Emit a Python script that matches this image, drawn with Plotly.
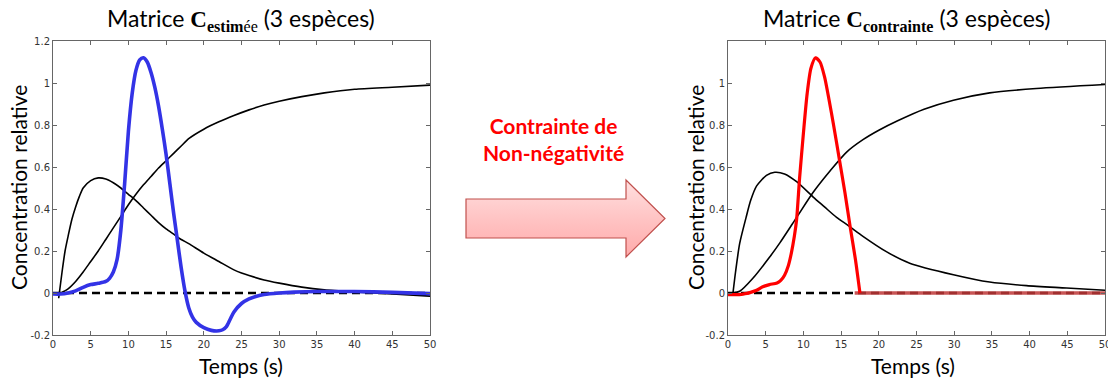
import base64
import plotly.graph_objects as go

# ---------------- data ----------------
# Left panel (estimated C)
tL_b1 = [0.75, 1.2, 1.6, 2.0, 2.5, 3.0, 3.5, 4.0, 5.0, 6.0, 7.0, 8.0, 9.0, 10.0, 11.0, 12.0, 13.0,
         14.0, 15.0, 16.0, 17.0, 18.0, 20.0, 22.0, 24.0, 25.0, 26.0, 28.0, 30.0, 33.0, 36.0, 40.0, 45.0, 50.0]
yL_b1 = [-0.025, 0.1, 0.2, 0.27, 0.35, 0.41, 0.46, 0.5, 0.535, 0.548, 0.543, 0.525, 0.5, 0.47, 0.44, 0.405,
         0.37, 0.335, 0.305, 0.28, 0.255, 0.235, 0.19, 0.15, 0.11, 0.095, 0.083, 0.062, 0.047, 0.028, 0.015,
         0.005, -0.005, -0.015]

tL_b2 = [1.0, 2.0, 3.0, 4.0, 5.0, 6.0, 7.0, 8.0, 9.0, 10.0, 11.0, 12.0, 13.0, 14.0, 15.0, 16.0, 17.0,
         18.0, 20.0, 22.0, 24.0, 26.0, 28.0, 30.0, 33.0, 36.0, 40.0, 45.0, 50.0]
yL_b2 = [0.0, 0.02, 0.055, 0.1, 0.15, 0.2, 0.255, 0.31, 0.365, 0.42, 0.47, 0.515, 0.555, 0.595, 0.63,
         0.665, 0.7, 0.735, 0.78, 0.815, 0.845, 0.872, 0.895, 0.913, 0.935, 0.953, 0.97, 0.98, 0.99]

tL_blue = [0, 1, 2, 3, 4, 5, 6, 7, 7.5, 8, 8.5, 9, 9.5, 10, 10.5, 11, 11.5, 12, 12.5, 13, 13.5, 14, 14.5,
           15, 15.5, 16, 16.5, 17, 17.5, 18, 18.5, 19, 20, 21, 22, 22.5, 23, 23.5, 24, 25, 26, 27, 28,
           30, 32, 35, 40, 45, 50]
yL_blue = [-0.005, -0.005, 0.0, 0.01, 0.027, 0.04, 0.046, 0.055, 0.07, 0.1, 0.16, 0.3, 0.52, 0.77, 0.95,
           1.06, 1.11, 1.12, 1.1, 1.05, 0.98, 0.89, 0.78, 0.66, 0.52, 0.38, 0.25, 0.12, 0.01, -0.07,
           -0.115, -0.14, -0.165, -0.178, -0.18, -0.175, -0.16, -0.125, -0.09, -0.05, -0.028, -0.015,
           -0.007, 0.0, 0.004, 0.007, 0.007, 0.003, -0.003]

# Right panel (constrained C)
tR_b1 = [0.66, 1.0, 1.55, 2.4, 3.0, 3.8, 5.1, 6.2, 7.5, 9.1, 11.3, 12.8, 14.4, 16.0, 17.9, 21.0, 24.1,
         29.9, 34.7, 39.6, 44.9, 50.0]
yR_b1 = [0.0, 0.1, 0.236, 0.36, 0.44, 0.51, 0.56, 0.575, 0.567, 0.53, 0.457, 0.41, 0.36, 0.32, 0.27,
         0.197, 0.142, 0.087, 0.052, 0.035, 0.024, 0.013]

tR_b2 = [0.66, 1.55, 3.3, 5.5, 6.9, 9.1, 11.3, 13.5, 15.7, 17.9, 20.0, 22.5, 26.0, 29.9, 34.7, 40.9, 50.0]
yR_b2 = [0.0, 0.008, 0.07, 0.17, 0.24, 0.36, 0.48, 0.58, 0.67, 0.73, 0.775, 0.82, 0.875, 0.918, 0.953,
         0.974, 0.993]

tR_red = [0, 1, 2, 2.5, 3, 3.8, 4.6, 5.5, 6.5, 7, 7.5, 8, 8.4, 8.8, 9.1, 9.5, 10, 10.5, 11, 11.6, 12.2,
          12.8, 13.4, 14, 14.8, 15.5, 16.2, 16.9, 17.5]
yR_red = [-0.008, -0.008, -0.005, -0.002, 0.003, 0.013, 0.03, 0.04, 0.048, 0.06, 0.085, 0.13, 0.19, 0.27,
          0.35, 0.55, 0.76, 0.95, 1.07, 1.12, 1.1, 1.03, 0.92, 0.8, 0.63, 0.48, 0.315, 0.16, 0.0]
tR_tail = [16.8, 50]
yR_tail = [0, 0]

zero_t = [0, 50]
zero_y = [0, 0]

x_ticks = [0, 5, 10, 15, 20, 25, 30, 35, 40, 45, 50]
yL_ticks = [-0.2, 0, 0.2, 0.4, 0.6, 0.8, 1.0, 1.2]
yL_labels = ["-0.2", "0", "0.2", "0.4", "0.6", "0.8", "1", "1.2"]
yR_ticks = [-0.2, 0, 0.2, 0.4, 0.6, 0.8, 1.0]
yR_labels = ["-0.2", "0", "0.2", "0.4", "0.6", "0.8", "1"]

# ---------------- figure ----------------
W, H = 1108, 380
def px_x(p): return p / W
def px_y(p): return 1 - p / H

fig = go.Figure()

def line(x, y, color, width, xa, ya, dash=None, shape="spline"):
    fig.add_trace(go.Scatter(x=x, y=y, mode="lines", xaxis=xa, yaxis=ya, hoverinfo="skip",
                             line=dict(color=color, width=width, dash=dash, shape=shape,
                                       smoothing=0.7 if shape == "spline" else None)))

BLUE = "#3333e6"
line(zero_t, zero_y, "black", 2.4, "x", "y", dash="8px,5px", shape="linear")
line(tL_b1, yL_b1, "black", 1.6, "x", "y")
line(tL_b2, yL_b2, "black", 1.6, "x", "y")
line(tL_blue, yL_blue, BLUE, 3.6, "x", "y")

line(zero_t, zero_y, "black", 2.4, "x2", "y2", dash="8px,5px", shape="linear")
line(tR_b1, yR_b1, "black", 1.6, "x2", "y2")
line(tR_b2, yR_b2, "black", 1.6, "x2", "y2")
line(tR_tail, yR_tail, "rgba(190,55,55,0.85)", 3.4, "x2", "y2", shape="linear")
line(tR_red, yR_red, "#ff0000", 3.2, "x2", "y2")

ax_common = dict(showline=True, linecolor="#666", linewidth=1, mirror="ticks", ticks="inside",
                 ticklen=4, tickcolor="#666", showgrid=False, zeroline=False, automargin=False,
                 ticklabeloverflow="allow",
                 tickfont=dict(family="DejaVu Sans", size=10, color="#333"))

ydom = [px_y(335), px_y(41)]
fig.update_layout(
    template="none",
    width=W, height=H, margin=dict(l=0, r=0, t=0, b=0, autoexpand=False),
    paper_bgcolor="white", plot_bgcolor="white", showlegend=False,
    xaxis=dict(domain=[px_x(53), px_x(430)], range=[0, 50], tickvals=x_ticks, anchor="y", **ax_common),
    yaxis=dict(domain=ydom, range=[-0.2, 1.2], tickvals=yL_ticks, ticktext=yL_labels, anchor="x",
               **ax_common),
    xaxis2=dict(domain=[px_x(728), px_x(1105)], range=[0, 50], tickvals=x_ticks, anchor="y2", **ax_common),
    yaxis2=dict(domain=ydom, range=[-0.2, 1.2], tickvals=yR_ticks, ticktext=yR_labels, anchor="x2",
                **ax_common),
)

SERIF = "font-family:'Liberation Serif', serif"
title_left = ("Matrice <span style=\"" + SERIF + "\"><b>C</b><sub><b>estim</b>ée</sub></span> (3 espèces)")
title_right = ("Matrice <span style=\"" + SERIF + "\"><b>C</b><sub><b>contrainte</b></sub></span> (3 espèces)")

ann = []
ann.append(dict(x=px_x(241), y=px_y(19), text=title_left, font=dict(family="Lato", size=23, color="black")))
ann.append(dict(x=px_x(906), y=px_y(19), text=title_right, font=dict(family="Lato", size=23, color="black")))
for xc in (241, 913):
    ann.append(dict(x=px_x(xc), y=px_y(365), text="Temps (s)", font=dict(family="Lato", size=21, color="black")))
for xc in (18, 695):
    ann.append(dict(x=px_x(xc), y=px_y(188), text="Concentration relative", textangle=-90,
                    font=dict(family="Lato", size=21, color="black")))
ann.append(dict(x=px_x(553), y=px_y(139), text="<b>Contrainte de<br>Non-négativité</b>",
                font=dict(family="Lato", size=21, color="#ff0000")))
for a in ann:
    a.update(xref="paper", yref="paper", showarrow=False, xanchor="center", yanchor="middle")
fig.update_layout(annotations=ann)

# gradient arrow (decoration) as an inline SVG image
ax0, ay0, ax1, ay1 = 464, 178, 668, 260
aw, ah = ax1 - ax0, ay1 - ay0
svg = f'''<svg xmlns="http://www.w3.org/2000/svg" width="{aw}" height="{ah}" viewBox="0 0 {aw} {ah}">
<defs><linearGradient id="g" x1="0" y1="0" x2="0" y2="1">
<stop offset="0" stop-color="#ffe0e0"/><stop offset="0.5" stop-color="#ffc4c4"/><stop offset="1" stop-color="#ffaaaa"/>
</linearGradient></defs>
<path d="M2 21 L162 21 L162 2 L201 40.5 L162 79 L162 60 L2 60 Z" fill="url(#g)" stroke="#c0504d" stroke-width="1.2"/>
</svg>'''
src = "data:image/svg+xml;base64," + base64.b64encode(svg.encode()).decode()
fig.add_layout_image(dict(source=src, xref="paper", yref="paper", x=px_x(ax0), y=px_y(ay0),
                          sizex=aw / W, sizey=ah / H, xanchor="left", yanchor="top",
                          sizing="stretch", layer="above"))

fig.write_html("out.html")
